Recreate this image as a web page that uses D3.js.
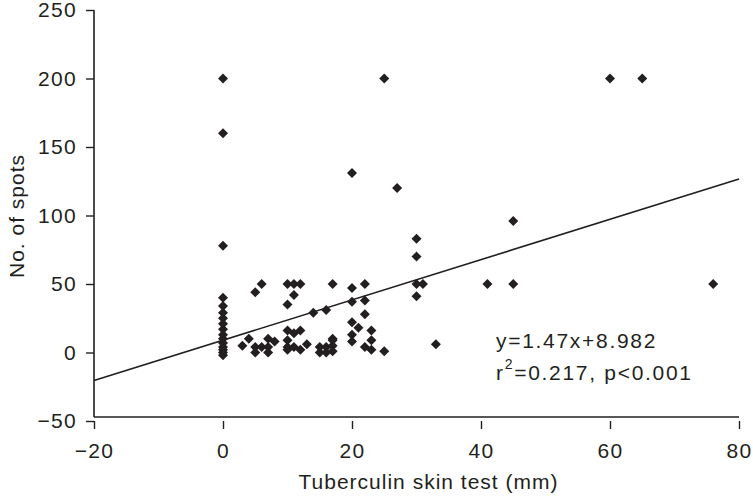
<!DOCTYPE html>
<html>
<head>
<meta charset="utf-8">
<script src="https://cdn.jsdelivr.net/npm/d3@7"></script>
<style>
  body { margin: 0; background: #fff; }
  svg { display: block; font-family: "Liberation Sans", Arial, sans-serif; }
</style>
</head>
<body>
<svg id="chart" width="753" height="497"></svg>
<script>
// valori (mm, numero di spot)
const xTicks = [-20, 0, 20, 40, 60, 80];
const yTicks = [-50, 0, 50, 100, 150, 200, 250];

const tstMm = [
  0, 0, 0, 0, 0, 0, 0, 0, 0, 0, 0, 0, 0, 0, 0, 0,
  3, 4, 5, 5, 5, 6, 6, 7, 7, 7, 8,
  10, 11, 12, 11, 10, 10, 11, 12, 10, 10, 11, 12, 10, 13, 14,
  15, 15, 16, 16, 16, 17, 17, 17, 17, 17,
  20, 20, 20, 20, 20, 20, 21, 22, 22, 22, 22, 23, 23, 23,
  25, 25, 27, 30, 30, 30, 31, 30, 33, 41, 45, 45, 60, 65, 76
];
const spots = [
  200, 160, 78, 40, 34, 29, 25, 21, 17, 13, 10, 7, 4, 2, 0, -2,
  5, 10, 44, 4, 0, 50, 4, 10, 4, 0, 8,
  50, 50, 50, 42, 35, 16, 14, 16, 9, 2, 4, 2, 4, 6, 29,
  4, 0, 31, 0, 4, 50, 10, 5, 1, 9,
  47, 37, 22, 13, 8, 131, 18, 50, 38, 28, 4, 16, 9, 2,
  1, 200, 120, 83, 70, 50, 50, 41, 6, 50, 50, 96, 200, 200, 50
];

const slope = 1.47, intercept = 8.982;
const eqLine1 = "y=1.47x+8.982";

const svg = d3.select("#chart");
const ink = "#231f20";
const fs = 21, ls = 1.3;

const x = d3.scaleLinear().domain([-20, 80]).range([94, 739]);
const y = d3.scaleLinear().domain([-50, 250]).range([421, 10]);

const minus = d => d < 0 ? "\u2212" + Math.abs(d) : d;

//assi
svg.append("line")
  .attr("x1", 94).attr("x2", 94).attr("y1", y(250)).attr("y2", 417)
  .attr("stroke", ink).attr("stroke-width", 1.6);
svg.append("line")
  .attr("x1", 94).attr("x2", 739).attr("y1", 417).attr("y2", 417)
  .attr("stroke", ink).attr("stroke-width", 1.6);

const yAx = svg.append("g")
  .attr("transform", "translate(94,0)")
  .call(d3.axisLeft(y).tickValues(yTicks).tickSize(8).tickPadding(9).tickFormat(minus));
yAx.select(".domain").remove();
yAx.selectAll("line").attr("stroke", ink).attr("stroke-width", 1.4);
yAx.selectAll("text").attr("font-size", fs).attr("fill", ink)
  .attr("letter-spacing", ls)
  .attr("font-family", "Liberation Sans, Arial, sans-serif");

const xAx = svg.append("g")
  .attr("transform", "translate(0,421)")
  .call(d3.axisBottom(x).tickValues(xTicks).tickSize(8).tickPadding(14).tickFormat(minus));
xAx.select(".domain").remove();
xAx.selectAll("line").attr("stroke", ink).attr("stroke-width", 1.4);
xAx.selectAll("text").attr("font-size", fs).attr("fill", ink)
  .attr("letter-spacing", ls)
  .attr("font-family", "Liberation Sans, Arial, sans-serif");

//titoli assi
svg.append("text")
  .attr("x", x(30) + 12).attr("y", 489)
  .attr("text-anchor", "middle")
  .attr("font-size", fs).attr("letter-spacing", 1).attr("fill", ink)
  .text("Tuberculin skin test (mm)");

svg.append("text")
  .attr("transform", "rotate(-90)")
  .attr("x", -216).attr("y", 24)
  .attr("text-anchor", "middle")
  .attr("font-size", fs).attr("letter-spacing", 1).attr("fill", ink)
  .text("No. of spots");

//retta di regressione
svg.append("line")
  .attr("x1", x(-20)).attr("y1", y(slope * -20 + intercept))
  .attr("x2", x(80)).attr("y2", y(slope * 80 + intercept))
  .attr("stroke", ink).attr("stroke-width", 1.6);

//punti
const pts = tstMm.map((v, i) => [v, spots[i]]);
const diamond = d3.symbol().type(d3.symbolSquare).size(50);
svg.append("g").selectAll("path")
  .data(pts)
  .join("path")
  .attr("d", diamond)
  .attr("transform", d => `translate(${x(d[0])},${y(d[1])}) rotate(45)`)
  .attr("fill", ink);

//equazione
svg.append("text")
  .attr("x", 496).attr("y", 348)
  .attr("font-size", fs).attr("letter-spacing", 1.7).attr("fill", ink)
  .text(eqLine1);

const t2 = svg.append("text")
  .attr("x", 496).attr("y", 380)
  .attr("font-size", fs).attr("letter-spacing", 1.7).attr("fill", ink);
t2.append("tspan").text("r");
t2.append("tspan").attr("dy", -11).attr("font-size", 14).text("2");
t2.append("tspan").attr("dy", 11).text("=0.217, p<0.001");
</script>
</body>
</html>
